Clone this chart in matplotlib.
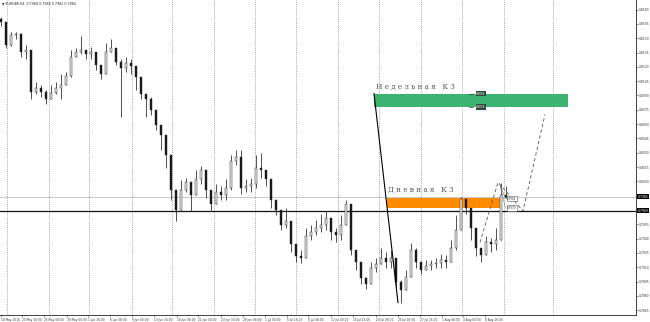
import matplotlib
matplotlib.use("Agg")
import matplotlib.pyplot as plt
import matplotlib.transforms as mtransforms
from matplotlib.patches import Rectangle

# ---------------- data (EURGBP H4) ----------------
first_open = 0.8170
close = [0.8167, 0.8143, 0.8153, 0.8154, 0.8136, 0.8138, 0.8094, 0.8098, 0.8094, 0.8086,
         0.8093, 0.8098, 0.8101, 0.8110, 0.8130, 0.8136, 0.8138, 0.8133, 0.8136, 0.8122,
         0.8112, 0.8136, 0.8140, 0.8125, 0.8119, 0.8124, 0.8121, 0.8109, 0.8091, 0.8086,
         0.8075, 0.8059, 0.8049, 0.8028, 0.7991, 0.7970, 0.7991, 0.7999, 0.7986, 0.8002,
         0.8012, 0.7991, 0.7976, 0.7989, 0.7986, 0.7993, 0.8021, 0.8025, 0.7993, 0.7995,
         0.7997, 0.8014, 0.8012, 0.8002, 0.7981, 0.7970, 0.7954, 0.7958, 0.7934, 0.7922,
         0.7920, 0.7943, 0.7947, 0.7951, 0.7954, 0.7962, 0.7947, 0.7944, 0.7954, 0.7976,
         0.7928, 0.7916, 0.7899, 0.7892, 0.7909, 0.7913, 0.7920, 0.7916, 0.7920, 0.7895,
         0.7886, 0.7900, 0.7928, 0.7916, 0.7907, 0.7911, 0.7913, 0.7914, 0.7918, 0.7916,
         0.7930, 0.7949, 0.7981, 0.7972, 0.7951, 0.7930, 0.7923, 0.7936, 0.7934, 0.7939,
         0.7986, 0.7984]
high = [0.8172, 0.8159, 0.8156, 0.8157, 0.8155, 0.8143, 0.8138, 0.8104, 0.8101, 0.8096,
        0.8101, 0.8104, 0.8112, 0.8115, 0.8138, 0.8140, 0.8152, 0.8138, 0.8141, 0.8133,
        0.8122, 0.8145, 0.8149, 0.8133, 0.8128, 0.8130, 0.8128, 0.8119, 0.8098, 0.8091,
        0.8088, 0.8065, 0.8059, 0.8038, 0.8007, 0.7981, 0.8001, 0.8004, 0.7997, 0.8012,
        0.8016, 0.8010, 0.7989, 0.7997, 0.7995, 0.8002, 0.8028, 0.8033, 0.8033, 0.8002,
        0.8004, 0.8028, 0.8030, 0.8010, 0.7997, 0.7981, 0.7968, 0.7972, 0.7954, 0.7930,
        0.7928, 0.7951, 0.7954, 0.7960, 0.7966, 0.7969, 0.7960, 0.7951, 0.7965, 0.7981,
        0.7976, 0.7923, 0.7909, 0.7900, 0.7916, 0.7920, 0.7930, 0.7926, 0.7928, 0.7913,
        0.7897, 0.7907, 0.7935, 0.7930, 0.7916, 0.7918, 0.7918, 0.7920, 0.7924, 0.7923,
        0.7939, 0.7965, 0.7984, 0.7981, 0.7968, 0.7941, 0.7930, 0.7943, 0.7941, 0.7951,
        0.7998, 0.7995]
low = [0.8163, 0.8140, 0.8142, 0.8149, 0.8130, 0.8128, 0.8086, 0.8091, 0.8088, 0.8081,
       0.8086, 0.8091, 0.8086, 0.8104, 0.8109, 0.8130, 0.8133, 0.8128, 0.8128, 0.8117,
       0.8107, 0.8115, 0.8136, 0.8122, 0.8067, 0.8115, 0.8112, 0.8096, 0.8086, 0.8067,
       0.8070, 0.8054, 0.8033, 0.8014, 0.7981, 0.7959, 0.7976, 0.7989, 0.7969, 0.7986,
       0.7997, 0.7983, 0.7969, 0.7976, 0.7981, 0.7981, 0.7991, 0.8017, 0.7987, 0.7989,
       0.7989, 0.7993, 0.8004, 0.7995, 0.7972, 0.7965, 0.7949, 0.7951, 0.7926, 0.7916,
       0.7914, 0.7923, 0.7939, 0.7944, 0.7947, 0.7949, 0.7939, 0.7937, 0.7939, 0.7968,
       0.7923, 0.7907, 0.7892, 0.7887, 0.7897, 0.7905, 0.7913, 0.7909, 0.7909, 0.7886,
       0.7873, 0.7895, 0.7900, 0.7909, 0.7903, 0.7907, 0.7907, 0.7909, 0.7909, 0.7909,
       0.7916, 0.7928, 0.7965, 0.7966, 0.7939, 0.7922, 0.7916, 0.7926, 0.7926, 0.7928,
       0.7965, 0.7983]

price_ticks = [0.7865, 0.7880, 0.7895, 0.7910, 0.7925, 0.7940, 0.7955, 0.8000, 0.8015,
               0.8030, 0.8045, 0.8060, 0.8075, 0.8090, 0.8105, 0.8120, 0.8135, 0.8150,
               0.8165, 0.8180]
time_labels = ["18 May 2016", "20 May 16:00", "25 May 08:00", "30 May 00:00", "1 Jun 16:00",
               "6 Jun 08:00", "9 Jun 00:00", "13 Jun 16:00", "16 Jun 08:00", "21 Jun 00:00",
               "23 Jun 16:00", "28 Jun 08:00", "1 Jul 00:00", "5 Jul 16:00", "8 Jul 08:00",
               "13 Jul 00:00", "15 Jul 16:00", "20 Jul 08:00", "25 Jul 00:00", "27 Jul 16:00",
               "1 Aug 08:00", "4 Aug 00:00", "8 Aug 16:00"]
time_pos = [0.0, 4.2, 8.6, 13.2, 17.4, 21.8, 26.2, 30.6, 35.2, 39.4, 44.0, 48.4, 52.8,
            57.2, 61.4, 66.0, 70.4, 75.0, 79.4, 83.8, 88.2, 92.4, 96.8]
grid_pos = [1.2, 9.6, 17.6, 26.2, 34.2, 42.6, 50.8, 59.0, 67.4, 75.6, 84.0, 92.2, 100.6, 110.4]

# drawn objects (bar index, price)
weekly_zone = (74.6, 113.4, 0.8078, 0.8092)
daily_zone = (77.2, 100.2, 0.7972, 0.7983)
trend_line = ([74.6, 79.4], [0.8092, 0.7873])
dash_path = ([95.8, 99.4, 104.4, 108.8], [0.7936, 0.7999, 0.7969, 0.8070])
level_line = 0.7969
bid_price = 0.7984
header = "\u25BC EURGBP,H4  0.7984 0.7984 0.7982 0.7984"

# ---------------- figure ----------------
W, H = 650, 322
fig = plt.figure(figsize=(W / 100, H / 100), dpi=100)
fig.patch.set_facecolor("white")
ax = fig.add_axes([0, 7 / H, 636 / W, 315 / H])
ax.set_xlim(-0.2, 127.0)
ax.set_ylim(0.7860, 0.8190)

# grid
for g in grid_pos:
    ax.axvline(g, color="#8a8a8a", lw=0.6, ls=(0, (1, 1.5)), zorder=0)

# zones
x0, x1, p0, p1 = weekly_zone
ax.add_patch(Rectangle((x0, p0), x1 - x0, p1 - p0, facecolor="#3cb371", edgecolor="none", zorder=1))
x0, x1, p0, p1 = daily_zone
ax.add_patch(Rectangle((x0, p0), x1 - x0, p1 - p0, facecolor="#ff8c00", edgecolor="none", zorder=1))

# horizontal lines
ax.axhline(bid_price, color="#c8c8c8", lw=0.7, zorder=1)
ax.axhline(level_line, color="#111111", lw=0.9, zorder=2)

# candles
opens = [first_open] + close[:-1]
for i, (o, h, l, c) in enumerate(zip(opens, high, low, close)):
    hh = max(h, o, c)
    ll = min(l, o, c)
    ax.vlines(i, ll, hh, color="#222222", lw=0.55, zorder=3)
    bottom = min(o, c)
    height = max(abs(c - o), 0.00004)
    face = "#e8e8e8" if c >= o else "#111111"
    ax.add_patch(Rectangle((i - 0.2, bottom), 0.4, height, facecolor=face,
                           edgecolor="#333333", lw=0.35, zorder=4))

# trend line and dashed projection
ax.plot(trend_line[0], trend_line[1], color="black", lw=0.8, zorder=5)
ax.plot(dash_path[0], dash_path[1], color="#555555", lw=0.6, ls=(0, (4, 3)), zorder=5)

# zone titles
ax.text(75.0, 0.8095, "Н е д е л ь н а я   К З", fontsize=5.2, family="DejaVu Serif",
        color="#555555", va="bottom", ha="left", zorder=6)
ax.text(77.4, 0.7987, "Д н е в н а я   К З", fontsize=5.2, family="DejaVu Serif",
        color="#555555", va="bottom", ha="left", zorder=6)

# small price labels on the weekly zone
for p, t in [(0.8092, "0.8092"), (0.8078, "0.8078")]:
    ax.plot([93.6, 94.4], [p, p], color="#333333", lw=0.5, zorder=6)
    ax.text(96.0, p, t, fontsize=2.0, color="white", ha="center", va="center", zorder=7,
            bbox=dict(boxstyle="square,pad=0.25", fc="#2f4a3a", ec="none"))

# small price boxes near the last high
for p, t in [(0.7982, "0.7982"), (0.7972, "0.7970")]:
    ax.plot([99.8, 100.9], [0.7996, p], color="#777777", lw=0.4, zorder=6)
    ax.text(102.2, p, t, fontsize=2.0, color="#333333", ha="center", va="center", zorder=7,
            bbox=dict(boxstyle="square,pad=0.25", fc="white", ec="#555555", lw=0.4))

# axes styling
for s in ["top", "left"]:
    ax.spines[s].set_visible(False)
ax.spines["right"].set_color("#222222")
ax.spines["bottom"].set_color("#222222")
ax.spines["right"].set_linewidth(0.6)
ax.spines["bottom"].set_linewidth(0.6)

ax.yaxis.tick_right()
ax.set_yticks(price_ticks)
ax.set_yticklabels([f"{p:.4f}" for p in price_ticks])
ax.tick_params(axis="y", length=1.2, width=0.4, pad=0.6, labelsize=2.2, colors="#333333")
ax.set_xticks(time_pos)
ax.set_xticklabels(time_labels, ha="left")
ax.tick_params(axis="x", length=1.2, width=0.4, pad=0.8, labelsize=2.1, colors="#333333")

# highlighted price labels on the axis
trans = mtransforms.blended_transform_factory(ax.transAxes, ax.transData)
for p in [bid_price, level_line]:
    ax.text(1.003, p, f"{p:.4f}", transform=trans, fontsize=2.2, color="white",
            ha="left", va="center", clip_on=False,
            bbox=dict(boxstyle="square,pad=0.15", fc="black", ec="none"))

fig.text(2 / W, 1 - 4 / H, header, fontsize=2.3, color="#222222", ha="left", va="center")

fig.savefig("out.png", dpi=100, facecolor="white")
